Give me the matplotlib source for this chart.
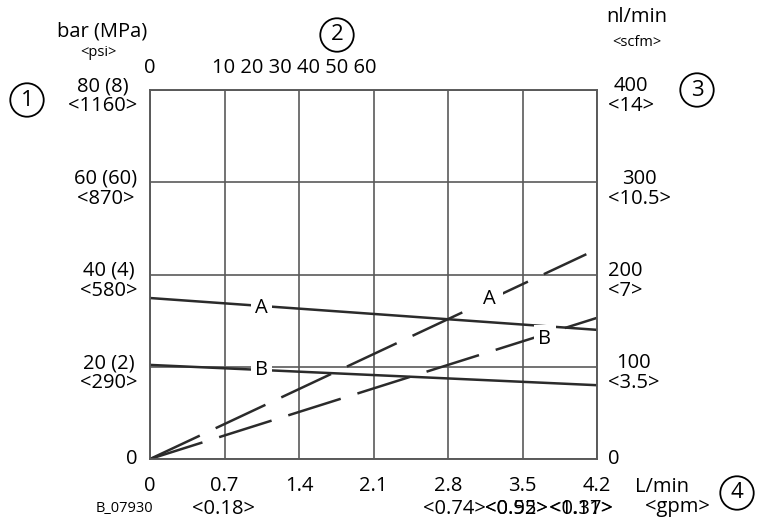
import matplotlib.pyplot as plt
import numpy as np

plt.rcParams['font.family'] = ['Open Sans', 'DejaVu Sans']

# x axis: flow L/min, second row in gpm
flow_ticks = [0, 0.7, 1.4, 2.1, 2.8, 3.5, 4.2]
flow_labels = ['0', '0.7', '1.4', '2.1', '2.8', '3.5', '4.2']
gpm_labels = ['<0.18>', '<0.74>', '<0.92>', '<0.55>', '<1.11>', '<0.37>']
gpm_pos = [0.69, 2.86, 3.44, 3.44, 4.05, 4.05]

# left axis: pressure
p_ticks = [0, 20, 40, 60, 80]
p_labels = ['0', '20 (2)\n<290>', '40 (4)\n<580>', '60 (60)\n<870>', '80 (8)\n<1160>']
# right axis: air consumption
q_ticks = [0, 100, 200, 300, 400]
q_labels = ['0', '100\n<3.5>', '200\n<7>', '300\n<10.5>', '400\n<14>']

# pressure curves (solid), left axis
flow_line = [0, 4.2]
press_A = [34.9, 28.0]
press_B = [20.4, 16.0]
# air consumption curves (dashed), right axis
cons_A_x = [0, 4.1]
cons_A = [0, 222]
cons_B_x = [0, 4.2]
cons_B = [0, 153]

W, H = 765, 520
fig = plt.figure(figsize=(W / 100, H / 100), dpi=100)


def px(x, y):
    return x / W, 1 - y / H


ax = fig.add_axes([150 / W, (H - 459) / H, 447 / W, 369 / H])
ax2 = ax.twinx()
ax.set_xlim(0, 4.2)
ax.set_ylim(0, 80)
ax2.set_ylim(0, 400)

line_c = '#2b2b2b'
grid_c = '#5a5a5a'
fs = 14.5
small = 10.5

for a in (ax, ax2):
    for s in a.spines.values():
        s.set_color(grid_c)
        s.set_linewidth(1.2)

ax.set_xticks(flow_ticks)
ax.set_xticklabels(flow_labels, fontsize=fs)
ax.tick_params(axis='x', length=0, pad=12)
ax.set_yticks(p_ticks)
ax.set_yticklabels([])
ax2.set_yticks(q_ticks)
ax2.set_yticklabels([])
ax.tick_params(axis='y', length=0)
ax2.tick_params(axis='y', length=0)

# y labels drawn as text, sitting a little below their grid line
for v, t in zip(p_ticks, p_labels):
    dy = 0 if v == 0 else -1.4
    ax.text(-0.028, v + dy, t, transform=ax.get_yaxis_transform(), fontsize=fs,
            ha='right', va='center', multialignment='center', linespacing=1.0)
for v, t in zip(q_ticks, q_labels):
    dy = 0 if v == 0 else -7
    ax2.text(1.025, v + dy, t, transform=ax2.get_yaxis_transform(), fontsize=fs,
             ha='left', va='center', multialignment='center', linespacing=1.0)

ax.grid(True, color=grid_c, linewidth=1.2)
ax.set_axisbelow(True)

ax.plot(flow_line, press_A, color=line_c, lw=1.8, zorder=3)
ax.plot(flow_line, press_B, color=line_c, lw=1.8, zorder=3)
ax2.plot(cons_A_x, cons_A, color=line_c, lw=1.8, linestyle=(0, (22, 7)))
ax2.plot(cons_B_x, cons_B, color=line_c, lw=1.8, linestyle=(0, (22, 7)))

box = dict(facecolor='white', edgecolor='none', pad=3)
ax.text(1.05, 32.8, 'A', fontsize=fs, ha='center', va='center', bbox=box, zorder=4)
ax.text(1.05, 19.3, 'B', fontsize=fs, ha='center', va='center', bbox=box, zorder=4)
ax2.text(3.19, 173, 'A', fontsize=fs, ha='center', va='center',
         bbox=dict(facecolor='white', edgecolor='none', pad=5), zorder=4)
ax2.text(3.71, 130, 'B', fontsize=fs, ha='center', va='center', bbox=box, zorder=4)

# second row of x labels (gpm)
for xv, t in zip(gpm_pos, gpm_labels):
    ax.text(xv, -0.135, t, transform=ax.get_xaxis_transform(), fontsize=fs,
            ha='center', va='center')
fig.text(*px(662, 487), 'L/min', fontsize=fs, ha='center', va='center')
fig.text(*px(677, 507), '<gpm>', fontsize=fs, ha='center', va='center')
fig.text(*px(124, 508), 'B_07930', fontsize=small, ha='center', va='center')

# axis titles
fig.text(*px(102, 31), 'bar (MPa)', fontsize=fs, ha='center', va='center')
fig.text(*px(98, 53), '<psi>', fontsize=small, ha='center', va='center')
fig.text(*px(637, 17), 'nl/min', fontsize=fs, ha='center', va='center')
fig.text(*px(637, 43), '<scfm>', fontsize=small, ha='center', va='center')

# top scale
fig.text(*px(150, 68), '0', fontsize=fs, ha='center', va='center')
fig.text(*px(212, 68), '10 20 30 40 50 60', fontsize=fs, ha='left', va='center')

# numbered callouts
circ = dict(boxstyle='circle,pad=0.28', facecolor='white', edgecolor='black', linewidth=1.3)
for n, (cx, cy) in zip(['1', '2', '3', '4'], [(27, 100), (337, 35), (697, 90), (737, 493)]):
    fig.text(*px(cx, cy), n, fontsize=16, ha='center', va='center', bbox=circ)

fig.savefig('out.png', dpi=100)
